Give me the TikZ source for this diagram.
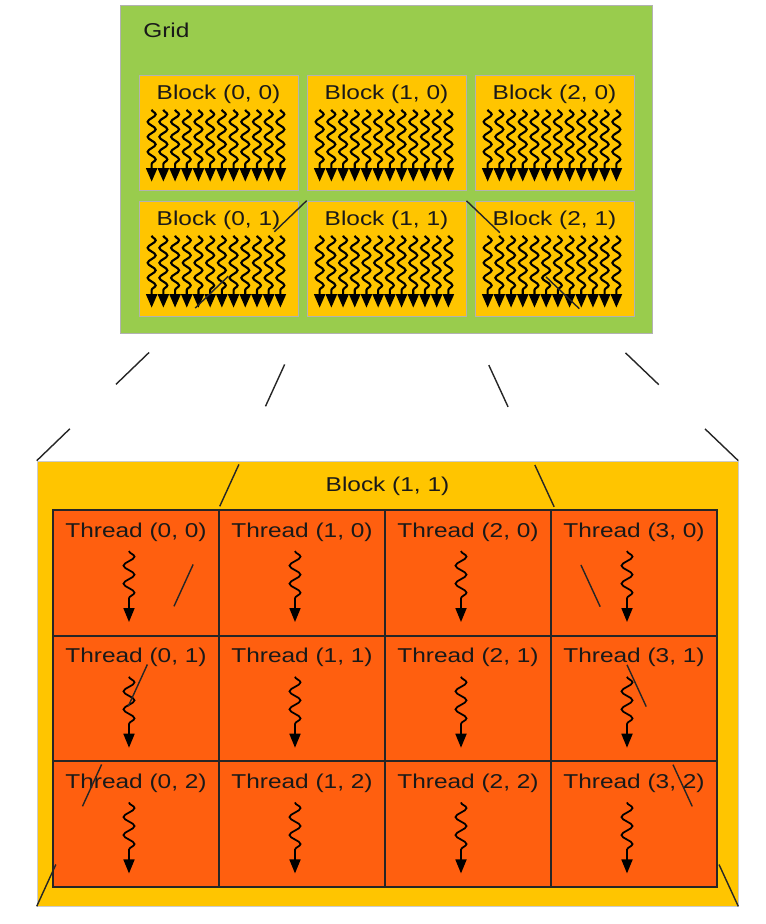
\documentclass[tikz,border=0pt]{standalone}
\usepackage{fontspec}
\setmainfont{Liberation Sans}[FakeStretch=1.22]
\usepackage{tikz}
\usetikzlibrary{arrows.meta,calc,decorations.pathmorphing}

\definecolor{gridgreen}{RGB}{153,204,77}
\definecolor{blockyellow}{RGB}{255,197,0}
\definecolor{threadorange}{RGB}{255,95,15}

\begin{document}
\begin{tikzpicture}[
  x=0.02cm, y=-0.02cm,
  every node/.style={font=\fontsize{11.4}{13}\selectfont, text=black!90, inner sep=0pt},
  gridbox/.style={rectangle, draw=black!30, fill=gridgreen, minimum width=10.64cm, minimum height=6.56cm},
  blockbox/.style={rectangle, draw=black!30, fill=blockyellow, minimum width=3.18cm, minimum height=2.3cm},
  bigblock/.style={rectangle, draw=black!20, fill=blockyellow, minimum width=14.02cm, minimum height=8.9cm},
  threadbox/.style={rectangle, draw=black!85, line width=1.1pt, fill=threadorange, minimum width=3.32cm, minimum height=2.513cm},
  warp/.style={->, >={Triangle[length=0.27cm, width=0.22cm]}, line width=1.2pt, decorate,
    decoration={snake, amplitude=0.08cm, segment length=0.3cm, post length=0.28cm}},
  thread/.style={->, >={Triangle[length=0.28cm, width=0.22cm]}, line width=1pt, decorate,
    decoration={snake, amplitude=0.11cm, segment length=0.36cm, post length=0.34cm}},
  zoomline/.style={draw=black!85, line width=0.8pt, dash pattern=on 0.92cm off 1.28cm}
]
\useasboundingbox (0,0) rectangle (766,924);

% the grid of blocks
\node[gridbox] (grid) at (386,169) {};
\node[anchor=west] (gridlabel) at (143,30) {Grid};

\foreach \i in {0,1,2}
  \foreach \j in {0,1} {
    \node[blockbox] (b\i\j) at (218.5+168*\i, 132.5+126*\j) {};
    \node (bl\i\j) at ($(b\i\j.north)+(0,20)$) {Block (\i, \j)};
    \foreach \k in {0,...,11}
      \draw[warp] ($(b\i\j.north west)+(13+11.7*\k,35)$) -- ++(0,72);
  }

% block (1,1) enlarged
\node[bigblock] (big) at (387.5,683.5) {};
\node (bigl) at ($(big.north)+(0,26)$) {Block (1, 1)};

\foreach \i in {0,...,3}
  \foreach \j in {0,1,2} {
    \node[threadbox] (t\i\j) at (136+166*\i, 572.8+125.7*\j) {};
    \node (tl\i\j) at ($(t\i\j.north)+(0,23)$) {Thread (\i, \j)};
    \draw[thread] ($(t\i\j.north)+(-7,42)$) -- ++(0,71);
  }

% zoom lines
\draw[zoomline] (big.north west) -- (b11.north west);
\draw[zoomline] (big.north east) -- (b11.north east);
\draw[zoomline] (big.south west) -- (b11.south west);
\draw[zoomline] (big.south east) -- (b11.south east);

\end{tikzpicture}
\end{document}
